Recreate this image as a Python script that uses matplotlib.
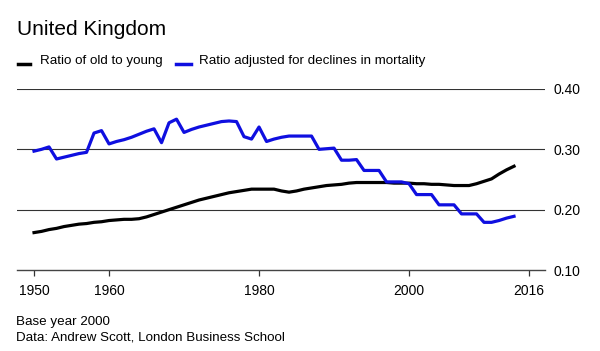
import numpy as np
import matplotlib
matplotlib.use("Agg")
from matplotlib import pyplot as plt
from matplotlib.lines import Line2D

plt.rcParams['font.family'] = ['Liberation Sans', 'DejaVu Sans']

years = np.arange(1950, 2015)

# ratio of old to young
old_young = [0.162, 0.164, 0.167, 0.169, 0.172, 0.174, 0.176, 0.177, 0.179, 0.180,
             0.182, 0.183, 0.184, 0.184, 0.185, 0.188, 0.192, 0.196, 0.200, 0.204,
             0.208, 0.212, 0.216, 0.219, 0.222, 0.225, 0.228, 0.230, 0.232, 0.234,
             0.234, 0.234, 0.234, 0.231, 0.229, 0.231, 0.234, 0.236, 0.238, 0.240,
             0.241, 0.242, 0.244, 0.245, 0.245, 0.245, 0.245, 0.245, 0.244, 0.244,
             0.244, 0.243, 0.243, 0.242, 0.242, 0.241, 0.240, 0.240, 0.240, 0.243,
             0.247, 0.251, 0.259, 0.266, 0.272]

# adjusted for declines in mortality
adjusted = [0.297, 0.300, 0.304, 0.284, 0.287, 0.290, 0.293, 0.295, 0.327, 0.331,
            0.309, 0.313, 0.316, 0.320, 0.325, 0.330, 0.334, 0.311, 0.344, 0.350,
            0.328, 0.333, 0.337, 0.340, 0.343, 0.346, 0.347, 0.346, 0.321, 0.317,
            0.337, 0.313, 0.317, 0.320, 0.322, 0.322, 0.322, 0.322, 0.300, 0.301,
            0.302, 0.282, 0.282, 0.283, 0.265, 0.265, 0.265, 0.246, 0.246, 0.246,
            0.243, 0.225, 0.225, 0.225, 0.208, 0.208, 0.208, 0.193, 0.193, 0.193,
            0.179, 0.179, 0.182, 0.186, 0.189]

xticks = [1950, 1960, 1980, 2000, 2016]
yticks = [0.10, 0.20, 0.30, 0.40]
ylabels = ['0.10', '0.20', '0.30', '0.40']

blue = '#0f0fe0'

fig = plt.figure(figsize=(6, 3.51), dpi=100)
ax = fig.add_axes([17/600, 1-270/351, (545-17)/600, (270-89)/351])

for y in yticks[1:]:
    ax.axhline(y, color='#333333', lw=0.8, zorder=1)

ax.plot(years, old_young, color='black', lw=2.3, zorder=3)
ax.plot(years, adjusted, color=blue, lw=2.3, zorder=3)

ax.set_xlim(1947.73, 2018.13)
ax.set_ylim(0.10, 0.40)
for s in ['top', 'left', 'right']:
    ax.spines[s].set_visible(False)
ax.spines['bottom'].set_color('#444444')
ax.spines['bottom'].set_linewidth(1.0)

ax.set_xticks(xticks)
ax.set_xticklabels([str(t) for t in xticks], fontsize=10)
ax.tick_params(axis='x', direction='out', length=4, width=0.9, color='#333333', pad=6)
ax.yaxis.tick_right()
ax.set_yticks(yticks)
ax.set_yticklabels(ylabels, fontsize=10)
ax.tick_params(axis='y', length=0, pad=6)

fig.text(17/600, 1-35/351, 'United Kingdom', fontsize=15, va='baseline', ha='left')

fig.add_artist(Line2D([18/600, 30/600], [1-63.5/351]*2, color='black', lw=2.5))
fig.text(40/600, 1-64/351, 'Ratio of old to young', fontsize=9.6, va='baseline')
fig.add_artist(Line2D([176/600, 191/600], [1-63.5/351]*2, color=blue, lw=2.5))
fig.text(199/600, 1-64/351, 'Ratio adjusted for declines in mortality', fontsize=9.6, va='baseline')

fig.text(16/600, 1-325/351, 'Base year 2000', fontsize=9.6, va='baseline')
fig.text(16/600, 1-341/351, 'Data: Andrew Scott, London Business School', fontsize=9.6, va='baseline')

fig.savefig('out.png', dpi=100)
